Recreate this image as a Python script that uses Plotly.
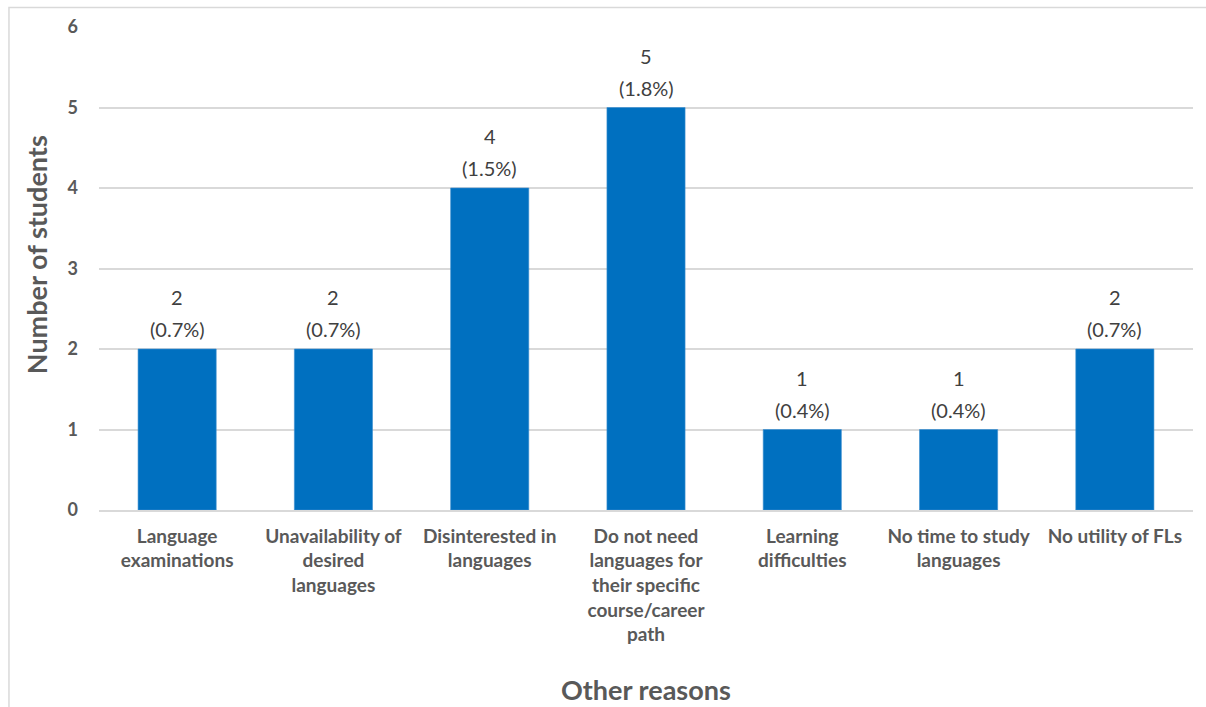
import plotly.graph_objects as go

categories = [
    "Language<br>examinations",
    "Unavailability of<br>desired<br>languages",
    "Disinterested in<br>languages",
    "Do not need<br>languages for<br>their specific<br>course/career<br>path",
    "Learning<br>difficulties",
    "No time to study<br>languages",
    "No utility of FLs",
]
students = [2, 2, 4, 5, 1, 1, 2]
percent_labels = ["0.7%", "0.7%", "1.5%", "1.8%", "0.4%", "0.4%", "0.7%"]
y_ticks = [0, 1, 2, 3, 4, 5, 6]

FONT = "Lato, 'Open Sans', sans-serif"
BAR = "#0070C0"
GRAY = "#595959"
LABEL = "#404040"
GRID = "#D9D9D9"

fig = go.Figure(
    go.Bar(
        x=categories,
        y=students,
        marker=dict(color=BAR, line=dict(color="#3d8fd0", width=0.6)),
        width=0.5,
        hoverinfo="skip",
    )
)

# value labels: count on top, share underneath
annotations = []
for cat, val, pct in zip(categories, students, percent_labels):
    annotations.append(dict(
        x=cat, y=val, xref="x", yref="y", text=f"({pct})", showarrow=False,
        yanchor="bottom", yshift=6, font=dict(family=FONT, size=20, color=LABEL),
    ))
    annotations.append(dict(
        x=cat, y=val, xref="x", yref="y", text=str(val), showarrow=False,
        yanchor="bottom", yshift=38, font=dict(family=FONT, size=20, color=LABEL),
    ))

# axis titles
annotations.append(dict(
    x=0.5, y=-0.372, xref="paper", yref="paper", text="<b>Other reasons</b>",
    showarrow=False, yanchor="middle", font=dict(family=FONT, size=27, color=GRAY),
))
annotations.append(dict(
    x=-0.0565, y=0.528, xref="paper", yref="paper", text="<b>Number of students</b>",
    showarrow=False, textangle=-90, xanchor="center", yanchor="middle",
    font=dict(family=FONT, size=27, color=GRAY),
))

fig.update_layout(
    width=1206,
    height=707,
    margin=dict(l=99, r=13, t=27, b=197),
    paper_bgcolor="white",
    plot_bgcolor="white",
    showlegend=False,
    bargap=0.5,
    annotations=annotations,
    shapes=[dict(
        type="rect", xref="paper", yref="paper",
        x0=-0.0823, x1=1.03, y0=-0.6, y1=1.0404,
        line=dict(color="#D9D9D9", width=1.5), fillcolor="rgba(0,0,0,0)", layer="below",
    )],
    font=dict(family=FONT),
)

fig.update_xaxes(
    showline=True, linecolor=GRID, linewidth=1.5,
    tickfont=dict(family=FONT, size=19, color=GRAY, weight="bold"),
    ticks="", ticklabelstandoff=8,
)
fig.update_yaxes(
    range=[0, 6], tickvals=y_ticks, showgrid=True, gridcolor=GRID, gridwidth=1.5,
    zeroline=False, showline=False,
    tickfont=dict(family=FONT, size=18, color=GRAY, weight="bold"),
    ticks="", ticklabelstandoff=20,
)

fig.write_html("out.html")
